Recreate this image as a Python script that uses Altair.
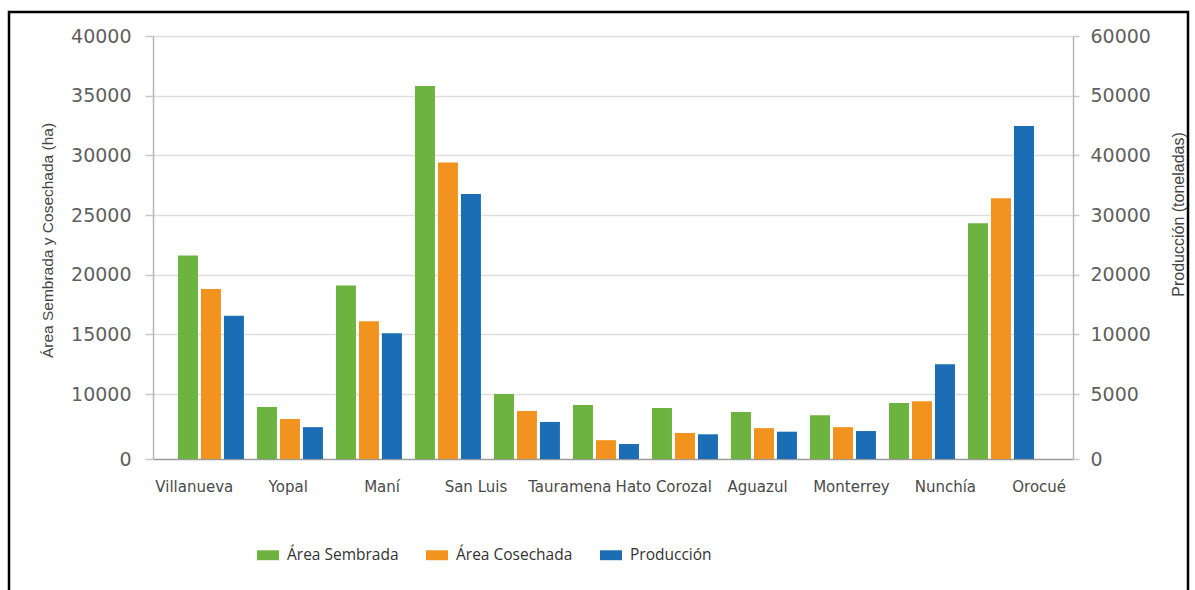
import altair as alt
import pandas as pd

# 11 bar groups in the picture, only 10 municipality labels under the axis
grupos = ["G01", "G02", "G03", "G04", "G05", "G06", "G07", "G08", "G09", "G10", "G11"]
municipios = ["Villanueva", "Yopal", "Maní", "San Luis", "Tauramena",
              "Hato Corozal", "Aguazul", "Monterrey", "Nunchía", "Orocué"]

sembrada = [21600, 8000, 19100, 35800, 10000, 8300, 7850, 7250, 6750, 8600, 24300]
cosechada = [18800, 6150, 16100, 29400, 7400, 2900, 4000, 4750, 4900, 8900, 26400]
produccion = [13100, 2450, 10200, 33500, 2850, 1150, 1900, 2100, 2150, 7500, 44900]

series = ["Área Sembrada", "Área Cosechada", "Producción"]
colores = ["#6db33f", "#f3931f", "#1b6db5"]

left_ticks = [0, 10000, 15000, 20000, 25000, 30000, 35000, 40000]
right_ticks = [0, 5000, 10000, 20000, 30000, 40000, 50000, 60000]

W, H = 920, 423
STEP = (H - 65) / 6.0

areas_df = pd.DataFrame({
    "grupo": grupos * 2,
    "serie": [series[0]] * len(grupos) + [series[1]] * len(grupos),
    "valor": sembrada + cosechada,
})
prod_df = pd.DataFrame({"grupo": grupos, "serie": [series[2]] * len(grupos), "valor": produccion})
labels_df = pd.DataFrame({"municipio": municipios})

x_bar = alt.X("grupo:N", sort=grupos,
              scale=alt.Scale(domain=grupos, paddingInner=0.165, paddingOuter=0.405, align=0.39),
              axis=None)
x_off = alt.XOffset("serie:N", sort=series,
                    scale=alt.Scale(domain=series, paddingInner=0.13, paddingOuter=0))
legend = alt.Legend(orient="none", legendX=104, legendY=508, direction="horizontal", title=None,
                    symbolType="M-1,-0.45H1V0.45H-1Z", symbolSize=484, symbolStrokeWidth=0,
                    symbolOpacity=1, labelFont="Open Sans", labelFontSize=15.5, labelColor="#333333",
                    labelOffset=8, columnPadding=27, padding=0)
color = alt.Color("serie:N", sort=series, scale=alt.Scale(domain=series, range=colores), legend=legend)

left_axis = alt.Axis(
    values=left_ticks, format="d", title="Área Sembrada y Cosechada (ha)",
    grid=True,
    gridColor={"condition": {"test": "datum.value === 0", "value": "#9a9a9a"}, "value": "#dedede"},
    gridWidth=1.5, domainColor="#b8b8b8", domainWidth=1.5,
    tickColor="#c8c8c8", tickSize=8, tickWidth=1.5,
    labelFont="DejaVu Sans", labelFontSize=19, labelColor="#5f5f5f", labelPadding=14,
    titleFont="Liberation Sans", titleFontSize=15.5, titleFontWeight="normal",
    titleColor="#444444", titleX=-101, titleY=204, titleAngle=270,
    titleBaseline="alphabetic", titleAlign="center",
)
right_axis = alt.Axis(
    orient="right", values=right_ticks, format="d", title="Producción (toneladas)",
    grid=False, domainColor="#b8b8b8", domainWidth=1.5,
    tickColor="#c8c8c8", tickSize=6, tickWidth=1.5,
    labelFont="DejaVu Sans", labelFontSize=19, labelColor="#5f5f5f", labelPadding=11,
    titleFont="Liberation Sans", titleFontSize=16, titleFontWeight="normal",
    titleColor="#444444", titleX=110, titleY=178, titleAngle=270,
    titleBaseline="alphabetic", titleAlign="center",
)

areas = alt.Chart(areas_df).mark_bar().encode(
    x=x_bar, xOffset=x_off,
    y=alt.Y("valor:Q", axis=left_axis,
            scale=alt.Scale(domain=[0, 10000, 40000], range=[H, H - 65, 0], nice=False, zero=False)),
    color=color,
)
prod = alt.Chart(prod_df).mark_bar().encode(
    x=x_bar, xOffset=x_off,
    y=alt.Y("valor:Q", axis=right_axis,
            scale=alt.Scale(domain=[0, 5000, 10000, 60000],
                            range=[H, H - 65, H - 65 - STEP, 0], nice=False, zero=False)),
    color=color,
)
labels = alt.Chart(labels_df).mark_text(
    font="DejaVu Sans", fontSize=15, color="#4a4a4a", baseline="middle"
).encode(
    x=alt.X("municipio:N", sort=municipios,
            scale=alt.Scale(type="point", domain=municipios, padding=0.4, align=0.55), axis=None),
    y=alt.value(H + 28),
    text="municipio:N",
)
frame = alt.Chart(pd.DataFrame({"k": [0]})).mark_rect(
    filled=False, stroke="black", strokeWidth=2.5
).encode(x=alt.value(-144), x2=alt.value(1035), y=alt.value(-24), y2=alt.value(570))

chart = alt.layer(frame, areas, prod, labels).resolve_scale(
    x="independent", y="independent"
).properties(
    width=W, height=H,
    padding={"left": 153, "top": 36, "right": 122, "bottom": 131},
    autosize=alt.AutoSizeParams(type="none"),
).configure_view(stroke=None).configure(background="white")

chart.save("out.html", embed_options={"renderer": "svg", "actions": False})
